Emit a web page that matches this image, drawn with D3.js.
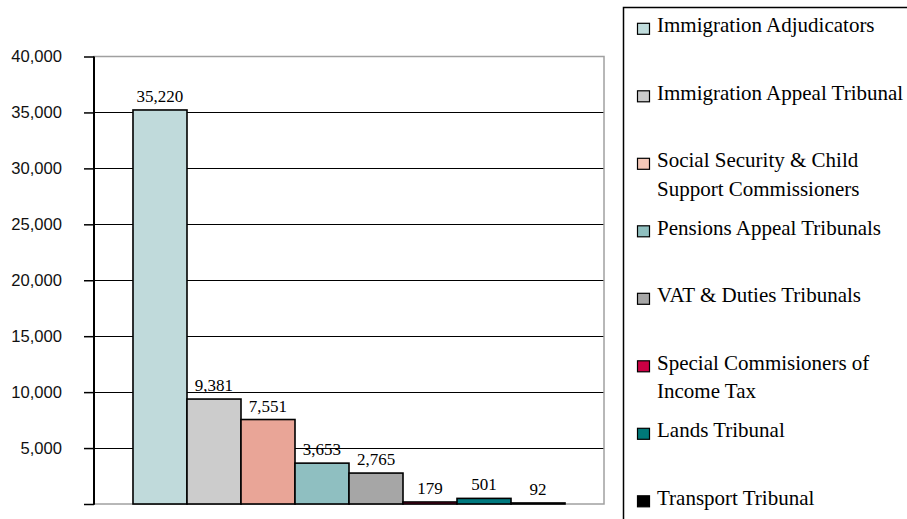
<!DOCTYPE html>
<html><head><meta charset="utf-8">
<script src="https://cdn.jsdelivr.net/npm/d3@7/dist/d3.min.js"></script>
<style>body{margin:0;background:#fff}svg{display:block}</style>
</head><body>
<svg id="c" width="907" height="519"></svg>
<script>
const categories = ["Immigration Adjudicators","Immigration Appeal Tribunal","Social Security & Child Support Commissioners","Pensions Appeal Tribunals","VAT & Duties Tribunals","Special Commisioners of Income Tax","Lands Tribunal","Transport Tribunal"];
const values = [35220, 9381, 7551, 3653, 2765, 179, 501, 92];
const barColors = ["#c0dadb","#cccccc","#e9a597","#8fbfc1","#a6a6a6","#cc0044","#007a80","#000000"];
const legendColors = ["#c0dcdc","#cccccc","#f5c8b8","#8fbfbf","#a6a6a6","#cc0044","#007878","#000000"];
const legendLines = [["Immigration Adjudicators"],["Immigration Appeal Tribunal"],["Social Security & Child","Support Commissioners"],["Pensions Appeal Tribunals"],["VAT & Duties Tribunals"],["Special Commisioners of","Income Tax"],["Lands Tribunal"],["Transport Tribunal"]];
const yTicks = [5000,10000,15000,20000,25000,30000,35000,40000];

const svg = d3.select("#c");
const L = 94, R = 604, T = 56.5, B = 504;
const y = d3.scaleLinear().domain([0,40000]).range([B,T]);
const x = d3.scaleBand().domain(categories).range([L,R]).paddingInner(0).paddingOuter(0.722);
const fmt = d3.format(",");

// gridlines
svg.append("g").selectAll("line").data(yTicks.filter(d=>d<40000)).join("line")
  .attr("x1",L).attr("x2",R).attr("y1",d=>Math.round(y(d))+0.5).attr("y2",d=>Math.round(y(d))+0.5)
  .attr("stroke","#000").attr("stroke-width",1.2);

// plot border (gray)
svg.append("rect").attr("x",L).attr("y",T).attr("width",R-L).attr("height",B-T)
  .attr("fill","none").attr("stroke","#a0a0a0").attr("stroke-width",1.5);

// bars
svg.append("g").selectAll("rect").data(values).join("rect")
  .attr("x",(d,i)=>x(categories[i])).attr("width",x.bandwidth())
  .attr("y",d=>y(d)).attr("height",d=>B-y(d))
  .attr("fill",(d,i)=>barColors[i]).attr("stroke","#000").attr("stroke-width",1.6);

// data labels
svg.append("g").selectAll("text").data(values).join("text")
  .attr("x",(d,i)=>x(categories[i])+x.bandwidth()/2).attr("y",d=>y(d)-8)
  .attr("text-anchor","middle").attr("font-family","'Liberation Serif','Times New Roman',serif")
  .attr("font-size",17).attr("fill","#000").text(d=>fmt(d));

// y axis
const ax = d3.axisLeft(y).tickValues([0].concat(yTicks)).tickSize(10).tickPadding(22)
  .tickFormat(d=>d===0?"":fmt(d));
const ga = svg.append("g").attr("transform",`translate(${L},0)`).call(ax);
ga.select(".domain").remove();
ga.selectAll(".tick line").attr("stroke","#000").attr("stroke-width",1.5);
ga.selectAll(".tick text").attr("font-family","'Liberation Sans',Arial,sans-serif").attr("font-size",16.6).attr("fill","#111");
svg.append("line").attr("x1",L).attr("x2",L).attr("y1",T).attr("y2",B+0.75).attr("stroke","#000").attr("stroke-width",2);

// legend
svg.append("rect").attr("x",623.5).attr("y",7.5).attr("width",400).attr("height",600)
  .attr("fill","none").attr("stroke","#000").attr("stroke-width",1.5);
const lg = svg.append("g").selectAll("g").data(legendLines).join("g")
  .attr("transform",(d,i)=>`translate(0,${32.3+i*67.5})`);
lg.append("rect").attr("x",637.5).attr("y",-9).attr("width",12).attr("height",11)
  .attr("fill",(d,i)=>legendColors[i]).attr("stroke","#000").attr("stroke-width",1.2);
lg.each(function(lines){
  const g = d3.select(this);
  lines.forEach((t,j)=>g.append("text").attr("x",657).attr("y",j*28.5)
    .attr("font-family","'Liberation Serif','Times New Roman',serif").attr("font-size",21)
    .attr("fill","#000").text(t));
});
</script>
</body></html>
